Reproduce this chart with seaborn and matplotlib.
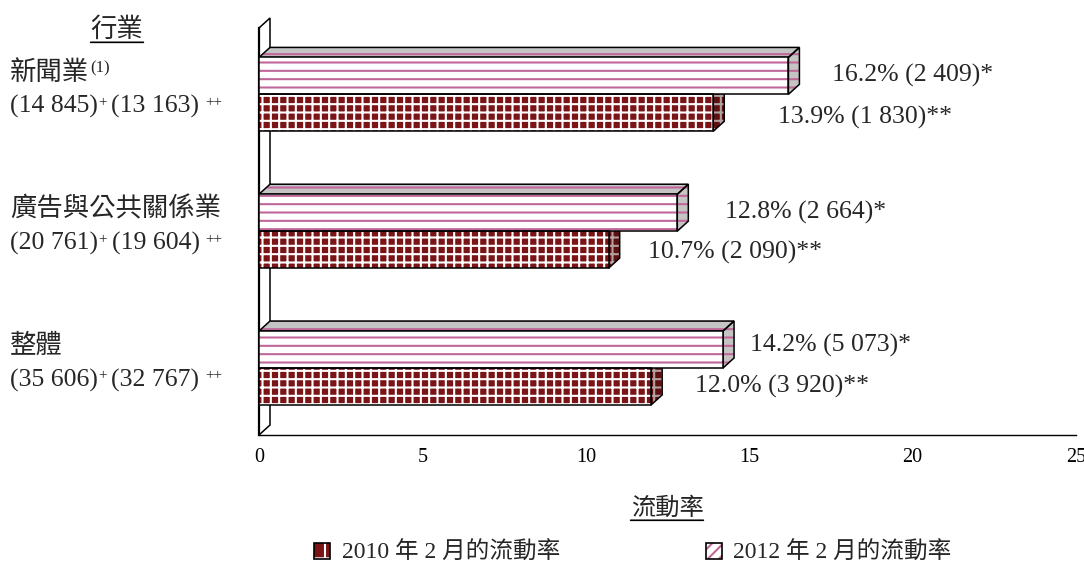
import matplotlib
matplotlib.use("Agg")
import matplotlib.pyplot as plt
from matplotlib.patches import Polygon, Rectangle, Patch
from matplotlib.legend_handler import HandlerTuple
import pandas as pd
import seaborn as sns

# 資料
industries = ["新聞業", "廣告與公共關係業", "整體"]
notes = ["(1)", "", ""]
emp_2010 = ["14 845", "20 761", "35 606"]
emp_2012 = ["13 163", "19 604", "32 767"]
rate_2010 = [13.9, 10.7, 12.0]
rate_2012 = [16.2, 12.8, 14.2]
leavers_2010 = ["1 830", "2 090", "3 920"]
leavers_2012 = ["2 409", "2 664", "5 073"]
series = ["2010 年 2 月的流動率", "2012 年 2 月的流動率"]
xticks = [0, 5, 10, 15, 20, 25]

df = pd.DataFrame({
    "industry": industries * 2,
    "series": [series[0]] * 3 + [series[1]] * 3,
    "rate": rate_2010 + rate_2012,
})

sns.set_style("white")
plt.rcParams["font.family"] = ["Liberation Serif", "Noto Sans CJK TC"]
plt.rcParams["hatch.linewidth"] = 1.5

W, H = 1084, 565
fig = plt.figure(figsize=(W / 100, H / 100), dpi=100)
ax = fig.add_axes([259 / W, 1 - 435 / H, 817 / W, 407 / H])

old_face, old_hatch = "#7a1416", "white"
new_face, new_hatch = "white", "#c0679a"

sns.barplot(data=df, x="rate", y="industry", hue="series", order=industries,
            hue_order=[series[1], series[0]], width=0.54, ax=ax, legend=False,
            palette=[new_face, old_face], saturation=1)

ylim = (2.49, -0.485)
ax.set_xlim(0, 25)
ax.set_ylim(*ylim)
ax.set_xticks(xticks)
ax.set_yticks([])
ax.set_xlabel("")
ax.set_ylabel("")
ax.tick_params(axis="x", direction="in", length=4, width=1, pad=9,
               labelsize=14.5, colors="black")
for s in ["top", "right"]:
    ax.spines[s].set_visible(False)
ax.spines["left"].set_linewidth(1.6)
ax.spines["left"].set_color("black")
ax.spines["bottom"].set_linewidth(1.0)
ax.spines["bottom"].set_color("black")

# 3D 深度 (像素 -> 資料單位)
dxd = 11 * 25 / 817
dyd = 10 * (ylim[0] - ylim[1]) / 407


def face(pts, fc, hc, hatch, z):
    ax.add_patch(Polygon(pts, closed=True, facecolor=fc, edgecolor=hc,
                         hatch=hatch, lw=0, zorder=z, clip_on=False))
    ax.add_patch(Polygon(pts, closed=True, fill=False, edgecolor="black",
                         lw=1.1, zorder=z + 0.1, clip_on=False))


# 背牆
face([(0, ylim[0]), (0, ylim[1]), (dxd, ylim[1] - dyd), (dxd, ylim[0] - dyd)],
     "white", "white", None, 0.5)

label_dx_new = [44, 48, 27]
label_dy_new = [0, 0, 4]
label_dx_old = [65, 39, 44]
label_dy_old = [-5, -3, 0]

for p in list(ax.patches):
    if not isinstance(p, Rectangle):
        continue
    x0, y0, w, h = p.get_x(), p.get_y(), p.get_width(), p.get_height()
    yc = y0 + h / 2
    row = int(round(yc))
    is_new = yc < row
    top, bot, x1 = y0, y0 + h, x0 + w
    if is_new:
        fc, hc, hatch = new_face, new_hatch, "--"
        side_fc, side_hc = "#c4c4c4", new_hatch
    else:
        fc, hc, hatch = old_face, old_hatch, "++"
        side_fc, side_hc = "#5e0f11", "#b0a0a0"
    p.set_facecolor(fc)
    p.set_edgecolor(hc)
    p.set_hatch(hatch)
    p.set_linewidth(0)
    p.set_zorder(3)
    ax.add_patch(Rectangle((x0, y0), w, h, fill=False, edgecolor="black",
                           lw=1.1, zorder=3.2))
    face([(x1, top), (x1 + dxd, top - dyd), (x1 + dxd, bot - dyd), (x1, bot)],
         side_fc, side_hc, hatch, 2)
    face([(x0, top), (x0 + dxd, top - dyd), (x1 + dxd, top - dyd), (x1, top)],
         side_fc, side_hc, hatch, 2)
    if is_new:
        txt = f"{rate_2012[row]:.1f}% ({leavers_2012[row]})*"
        off = (label_dx_new[row], label_dy_new[row])
    else:
        txt = f"{rate_2010[row]:.1f}% ({leavers_2010[row]})**"
        off = (label_dx_old[row], label_dy_old[row])
    ax.annotate(txt, xy=(x1, yc), xytext=off, textcoords="offset pixels",
                ha="left", va="center", fontsize=18.5, annotation_clip=False)


def underline(t, lw=1.2):
    ax.annotate("", xy=(0, 0.0), xycoords=t, xytext=(1, 0.0), textcoords=t,
                arrowprops=dict(arrowstyle="-", lw=lw, color="black",
                                shrinkA=0, shrinkB=0))


# 行業標籤
for i, name in enumerate(industries):
    t1 = ax.annotate(name, xy=(10 / W, i), xycoords=("figure fraction", "data"),
                     xytext=(0, 22), textcoords="offset pixels",
                     ha="left", va="center", fontsize=19, annotation_clip=False)
    if notes[i]:
        ax.annotate(notes[i], xy=(1, 0.97), xycoords=t1, xytext=(1, 0),
                    textcoords="offset pixels", ha="left", va="top",
                    fontsize=12, annotation_clip=False)
    ta = ax.annotate(f"({emp_2010[i]})", xy=(10 / W, i),
                     xycoords=("figure fraction", "data"),
                     xytext=(0, -12), textcoords="offset pixels",
                     ha="left", va="center", fontsize=18.5, annotation_clip=False)
    s1 = ax.annotate("+", xy=(1, 0.95), xycoords=ta, ha="left", va="top",
                     fontsize=11, annotation_clip=False)
    tb = ax.annotate(f"({emp_2012[i]})", xy=(1, 0), xycoords=(s1, ta),
                     xytext=(5, 0), textcoords="offset pixels",
                     ha="left", va="bottom", fontsize=18.5, annotation_clip=False)
    ax.annotate("++", xy=(1, 0.95), xycoords=tb, xytext=(6, 0),
                textcoords="offset pixels", ha="left", va="top",
                fontsize=11, annotation_clip=False)

t_ind = fig.text(117 / W, 1 - 30 / H, "行業", ha="center", va="center", fontsize=19)
underline(t_ind)
t_x = fig.text(667 / W, 1 - 509 / H, "流動率", ha="center", va="center", fontsize=17.5)
underline(t_x)

handles = [
    (Patch(facecolor=old_face, edgecolor=old_hatch, hatch="+", lw=0),
     Patch(facecolor="none", edgecolor="black", lw=1.2)),
    (Patch(facecolor=new_face, edgecolor=new_hatch, hatch="///", lw=0),
     Patch(facecolor="none", edgecolor="black", lw=1.2)),
]
fig.legend(handles=handles, labels=series, loc="center",
           bbox_to_anchor=(633 / W, 1 - 553 / H),
           handler_map={tuple: HandlerTuple(ndivide=1, pad=0)},
           ncol=2, frameon=False, fontsize=17, handlelength=0.65, handleheight=0.65,
           handletextpad=0.5, columnspacing=6.2)

fig.savefig("out.png", dpi=100)
